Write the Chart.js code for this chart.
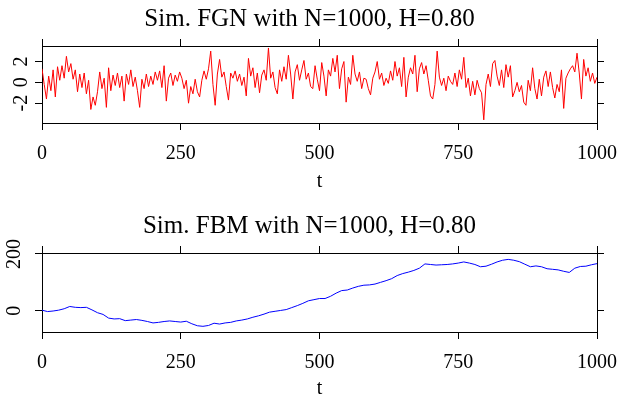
<!DOCTYPE html>
<html>
<head>
<meta charset="utf-8">
<script src="https://cdn.jsdelivr.net/npm/chart.js@4/dist/chart.umd.min.js"></script>
<style>
  html, body { margin: 0; padding: 0; background: #fff; overflow: hidden; }
  .panel { position: absolute; left: 0; width: 619px; height: 200px; }
</style>
</head>
<body>
<div class="panel" style="top:0"><canvas id="fgn" width="619" height="200"></canvas></div>
<div class="panel" style="top:207px"><canvas id="fbm" width="619" height="200"></canvas></div>
<script>
// time axis
var tTicks = [0, 250, 500, 750, 1000];

// simulated fractional gaussian noise, read every 4 steps of t
var fgnStep = 4;
var fgnValues = [
  1.3, -0.2, -1.6, 0.6, -0.8, 1.2, -1.4, 1.5, 0.2, 1.6, 0.4, 2.5, 1.0, 1.8, 0.3, 1.2, -0.9, 0.8, -0.5, 0.9, -1.1, 0.2, -2.6, -1.4, -2.2,
  -0.9, 1.0, -0.6, 0.4, -2.4, 1.4, -0.8, 0.7, -0.3, 0.9, -0.5, 0.6, -1.8, 0.8, -0.2, 1.2, -0.4, 0.5, -0.8, -2.4, 0.3, -0.6, 0.8, -0.4, 0.6,
  -0.2, 1.0, 0.2, 1.1, -0.5, 1.6, -1.8, 0.4, 0.9, -0.3, 0.7, 0.1, 1.0, 0.4, -0.6, 0.2, -2.0, -0.4, -1.1, 0.3, -0.9, -1.4, 0.2, 1.1, 0.3,
  1.3, 3.0, -0.2, -2.2, 0.8, 2.2, 0.5, 1.0, -0.4, -1.7, 0.9, 0.4, 1.1, 0.1, 0.8, -0.3, 0.5, -1.3, 2.3, 0.6, 1.4, -0.5, 0.9, -1.0, 0.7,
  1.2, 0.2, 3.3, 0.4, 1.0, -0.5, -1.1, 1.2, 0.1, 1.5, 0.3, 2.6, 0.8, -1.6, 1.0, 1.7, 0.2, 1.2, 2.1, 0.3, 0.9, -0.4, -0.6, 1.6, 0.3,
  -0.8, 1.9, 0.6, -1.3, 1.2, 0.6, 2.3, 1.0, 2.6, -0.6, 1.3, 2.0, -1.9, 0.5, -0.2, 2.6, 0.8, 0.1, 1.0, -0.6, 0.4, 0.3, -0.6, -1.2, 0.4,
  1.0, 2.0, 0.3, 0.9, -0.3, 0.4, -0.1, 1.1, 0.2, 2.0, 0.6, 1.4, -0.4, 2.4, -1.4, 0.5, 1.4, 0.8, 2.6, -0.9, 1.3, 1.9, 0.8, 1.6, 0.2,
  -1.3, -1.6, -0.2, 3.0, 0.5, -0.3, 0.4, -0.8, 0.6, 0.1, -0.2, 0.9, -0.4, 1.2, 0.3, 2.4, -0.5, 0.4, -1.3, 0.1, -1.2, 0.2, -0.6, -1.0, -3.6,
  -0.2, 0.8, -0.4, 1.8, 2.1, 0.6, -0.3, 1.2, -0.5, 1.7, 0.5, 1.6, -1.4, -0.8, 0.0, -0.9, -0.3, -1.9, -2.2, 0.2, -0.8, 1.4, -0.6, -1.6, 0.3,
  -1.3, 0.5, 1.1, -0.4, 1.0, -0.5, -1.5, -0.2, -0.9, 1.2, -2.5, 0.4, 0.9, 1.3, 1.6, 1.0, 2.8, 0.9, -1.6, 2.2, 0.6, 1.4, 0.1, 0.9, -0.1, 0.5
];
var fgnTicks = [-2, 0, 2];

// simulated fractional brownian motion, read every 10 steps of t
var fbmStep = 10;
var fbmValues = [
  2, -3, -1, 2, 7, 15, 12, 11, 12, 3,
  -7, -13, -26, -29, -28, -35, -33, -31, -34, -38,
  -43, -41, -38, -36, -38, -40, -37, -46, -53, -55,
  -52, -44, -47, -43, -41, -36, -33, -29, -23, -18,
  -12, -5, -2, 1, 4, 11, 18, 26, 35, 39,
  43, 43, 51, 62, 71, 73, 80, 86, 90, 91,
  94, 100, 106, 113, 124, 131, 136, 142, 150, 165,
  163, 161, 162, 163, 165, 168, 172, 168, 163, 155,
  157, 164, 172, 178, 181, 178, 173, 164, 155, 158,
  155, 148, 146, 144, 139, 135, 150, 156, 157, 162,
  166
];
var fbmTicks = [0, 200];

var serif = "'Liberation Serif', 'DejaVu Serif', serif";

function tickList(vals) {
  return function(scale) { scale.ticks = vals.map(function(v) { return {value: v}; }); };
}

// fixed axis sizes so the plot box lands where R put it
function fixSize(w, h) {
  return function(s) {
    if (w !== null) s.width = w;
    if (h !== null) s.height = h;
    s.paddingLeft = 0; s.paddingRight = 0; s.paddingTop = 0; s.paddingBottom = 0;
  };
}

function plain(v) { return String(v); }

function makePanel(id, title, values, step, color, yMin, yMax, yTicks, areaBottom) {
  var marks = {drawOnChartArea: false, drawTicks: true, tickLength: 7, color: '#000', lineWidth: 1};
  var edge = {display: true, color: '#000', width: 1};
  return new Chart(document.getElementById(id), {
    type: 'line',
    data: {
      datasets: [{
        data: values.map(function(v, i) { return {x: i * step, y: v}; }),
        borderColor: color,
        borderWidth: 1,
        pointRadius: 0,
        tension: 0,
        fill: false
      }]
    },
    options: {
      responsive: false,
      animation: false,
      events: [],
      layout: {padding: 0},
      plugins: {
        legend: {display: false},
        tooltip: {enabled: false},
        title: {
          display: true,
          text: title,
          color: '#000',
          font: {family: serif, size: 25, weight: 'normal'},
          padding: {top: 4, bottom: 0}
        }
      },
      scales: {
        x: {
          type: 'linear', position: 'bottom', min: 0, max: 1000,
          afterBuildTicks: tickList(tTicks),
          afterFit: fixSize(null, 200 - areaBottom),
          grid: marks, border: edge,
          ticks: {color: '#000', font: {family: serif, size: 20}, padding: 12, maxRotation: 0, callback: plain},
          title: {display: true, text: 't', color: '#000', font: {family: serif, size: 20}, padding: {top: 0, bottom: 6}}
        },
        x2: {
          type: 'linear', position: 'top', min: 0, max: 1000,
          afterBuildTicks: tickList(tTicks),
          afterFit: fixSize(null, 12),
          grid: marks, border: edge,
          ticks: {display: false}
        },
        y: {
          type: 'linear', position: 'left', min: yMin, max: yMax,
          afterBuildTicks: tickList(yTicks),
          afterFit: fixSize(42, null),
          grid: marks, border: edge,
          ticks: {color: '#000', font: {family: serif, size: 20}, padding: 5, minRotation: 90, maxRotation: 90, crossAlign: 'center', callback: plain}
        },
        y2: {
          type: 'linear', position: 'right', min: yMin, max: yMax,
          afterBuildTicks: tickList(yTicks),
          afterFit: fixSize(22, null),
          grid: marks, border: edge,
          ticks: {display: false}
        }
      }
    }
  });
}

makePanel('fgn', 'Sim. FGN with N=1000, H=0.80', fgnValues, fgnStep, '#ff0000', -3.9, 3.49, fgnTicks, 123);
makePanel('fbm', 'Sim. FBM with N=1000, H=0.80', fbmValues, fbmStep, '#0000ff', -75, 203.5, fbmTicks, 125);
</script>
</body>
</html>
